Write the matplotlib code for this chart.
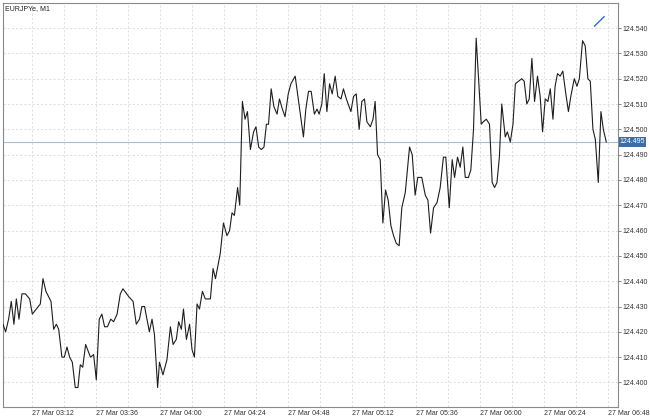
import numpy as np
import matplotlib
matplotlib.use("Agg")
import matplotlib.pyplot as plt
import matplotlib.transforms as mtransforms

plt.rcParams['font.family'] = ['Liberation Sans', 'DejaVu Sans']

symbol = "EURJPYe, M1"

# minutes after 27 Mar 03:00, close price
minutes = [
    1.0, 2.0, 3.1, 4.1, 5.1, 6.0, 7.0, 8.1, 9.4, 11.0, 12.0, 13.5, 15.0, 16.0, 17.1,
    19.0, 20.0, 21.0, 21.9, 23.1, 24.0, 25.0, 26.0, 27.0, 28.1, 29.1, 30.0, 30.9, 32.0,
    33.8, 35.0, 36.0, 37.1, 38.1, 39.1, 40.2, 41.4, 42.5, 43.8, 45.0, 46.0, 48.1, 49.8,
    51.0, 52.2, 53.1, 54.1, 55.9, 56.9, 57.8, 59.0, 59.7, 61.0, 62.5, 63.8, 64.8, 66.0,
    66.9, 67.9, 68.7, 69.8, 71.0, 71.9, 72.8, 73.8, 74.7, 75.8, 76.9, 78.8, 79.8, 80.7,
    82.5, 83.7, 85.0, 86.0, 86.9, 87.8, 89.0, 89.8, 90.8, 91.8, 92.7, 93.8, 95.0, 95.9,
    96.9, 97.9, 98.9, 99.8, 100.6, 101.6, 102.6, 103.8, 104.7, 105.8, 106.8, 108.0,
    109.0, 110.6, 113.7, 114.6, 115.6, 116.6, 117.8, 118.8, 119.6, 120.6, 121.5, 122.5,
    123.5, 124.5, 125.6, 126.6, 127.8, 128.7, 129.8, 131.5, 132.5, 133.5, 134.6, 135.6,
    136.6, 137.5, 138.8, 139.8, 140.6, 141.5, 142.5, 143.5, 144.5, 145.5, 146.5, 147.5,
    148.5, 149.6, 150.6, 151.9, 153.5, 154.5, 155.6, 156.6, 158.1, 159.4, 160.4, 161.4,
    162.5, 163.8, 165.0, 166.2, 167.1, 168.4, 169.5, 170.4, 171.5, 172.5, 173.5, 174.4,
    175.6, 176.5, 177.5, 178.5, 180.4, 181.2, 182.3, 183.5, 184.5, 185.4, 186.3, 187.2,
    188.1, 189.4, 190.2, 191.3, 192.3, 193.2, 194.4, 195.6, 196.5, 197.5, 198.4, 199.4,
    200.4, 201.5, 202.5, 203.4, 204.4, 205.4, 206.3, 207.3, 208.1, 209.0, 210.0, 211.0,
    212.0, 213.1, 214.0, 215.3, 216.3, 217.2, 218.4, 219.4, 220.4, 221.3, 222.3, 223.2,
    224.3, 225.3, 226.2, 227.3,
]
price = [
    124.423, 124.420, 124.425, 124.432, 124.423, 124.433, 124.425, 124.435, 124.435,
    124.433, 124.427, 124.429, 124.431, 124.441, 124.436, 124.432, 124.421, 124.423,
    124.421, 124.410, 124.410, 124.414, 124.410, 124.408, 124.398, 124.398, 124.407,
    124.406, 124.415, 124.410, 124.411, 124.401, 124.425, 124.427, 124.422, 124.422,
    124.425, 124.424, 124.427, 124.435, 124.437, 124.434, 124.432, 124.423, 124.425,
    124.430, 124.430, 124.420, 124.425, 124.419, 124.398, 124.408, 124.403, 124.409,
    124.422, 124.415, 124.417, 124.424, 124.421, 124.429, 124.417, 124.423, 124.413,
    124.410, 124.431, 124.429, 124.436, 124.433, 124.433, 124.445, 124.441, 124.451,
    124.463, 124.458, 124.460, 124.467, 124.466, 124.477, 124.470, 124.511, 124.504,
    124.507, 124.492, 124.499, 124.501, 124.493, 124.492, 124.493, 124.502, 124.502,
    124.516, 124.509, 124.506, 124.512, 124.508, 124.505, 124.514, 124.518, 124.521,
    124.497, 124.508, 124.515, 124.515, 124.506, 124.508, 124.506, 124.510, 124.522,
    124.507, 124.518, 124.514, 124.521, 124.513, 124.512, 124.516, 124.512, 124.507,
    124.513, 124.514, 124.500, 124.511, 124.512, 124.503, 124.501, 124.504, 124.511,
    124.490, 124.488, 124.463, 124.476, 124.472, 124.462, 124.458, 124.455, 124.454,
    124.469, 124.475, 124.493, 124.490, 124.474, 124.481, 124.481, 124.474, 124.472,
    124.459, 124.469, 124.471, 124.477, 124.489, 124.489, 124.469, 124.488, 124.481,
    124.489, 124.485, 124.493, 124.481, 124.481, 124.484, 124.500, 124.536, 124.502,
    124.503, 124.504, 124.502, 124.479, 124.477, 124.479, 124.489, 124.510, 124.497,
    124.499, 124.495, 124.502, 124.518, 124.519, 124.520, 124.519, 124.510, 124.512,
    124.528, 124.511, 124.521, 124.513, 124.499, 124.512, 124.511, 124.516, 124.504,
    124.517, 124.522, 124.521, 124.523, 124.515, 124.507, 124.513, 124.520, 124.517,
    124.520, 124.535, 124.533, 124.520, 124.519, 124.500, 124.496, 124.479, 124.507,
    124.500, 124.495,
]

last_price = 124.495

# small trend line object in the top right corner
trend_minutes = [222.9, 226.5]
trend_price = [124.5408, 124.5445]

price_ticks = [124.400, 124.410, 124.420, 124.430, 124.440, 124.450, 124.460,
               124.470, 124.480, 124.490, 124.500, 124.510, 124.520, 124.530, 124.540]
time_ticks = [12, 36, 60, 84, 108, 132, 156, 180, 204, 228]
time_labels = ["27 Mar 03:12", "27 Mar 03:36", "27 Mar 04:00", "27 Mar 04:24",
               "27 Mar 04:48", "27 Mar 05:12", "27 Mar 05:36", "27 Mar 06:00",
               "27 Mar 06:24", "27 Mar 06:48"]
grid_minutes = [12 * k for k in range(1, 20)]

fig = plt.figure(figsize=(6.5, 4.18), dpi=100)
ax = fig.add_axes([3 / 650, 11 / 418, 615 / 650, 404.5 / 418])

ax.set_xlim(1.0, 231.7)
ax.set_ylim(124.3903, 124.5501)

# grid
for m in grid_minutes:
    ax.axvline(m, color='#d9d9d9', lw=0.6, ls=(0, (2.5, 2.5)), zorder=0)
for p in price_ticks:
    ax.axhline(p, color='#d9d9d9', lw=0.6, ls=(0, (2.5, 2.5)), zorder=0)

# current price line
ax.axhline(last_price, color='#a9bcd3', lw=0.8, zorder=1)

ax.plot(minutes, price, color='#1e1e1e', lw=0.8, zorder=3)
ax.plot(trend_minutes, trend_price, color='#2f6fd2', lw=1.0, zorder=3)

ax.yaxis.tick_right()
ax.set_yticks(price_ticks)
ax.set_yticklabels(["%.3f" % p for p in price_ticks])
ax.tick_params(axis='y', labelsize=5, length=2, width=0.5, pad=1,
               colors='#555555', labelcolor='#333333')

ax.set_xticks(time_ticks)
ax.set_xticklabels(time_labels, ha='left')
ax.tick_params(axis='x', labelsize=5, length=0, pad=2.5, labelcolor='#333333')

for s in ax.spines.values():
    s.set_color('#8a8a8a')
    s.set_linewidth(0.8)

ax.text(0.004, 0.993, symbol, transform=ax.transAxes, fontsize=5,
        va='top', ha='left', color='#222222')

trans = mtransforms.blended_transform_factory(ax.transAxes, ax.transData)
ax.text(1.003, last_price, "%.3f" % last_price, transform=trans, fontsize=5,
        va='center', ha='left', color='white', zorder=5,
        bbox=dict(boxstyle='square,pad=0.15', facecolor='#3c6ea6', edgecolor='none'))

fig.savefig("out.png", dpi=100, facecolor='white')
